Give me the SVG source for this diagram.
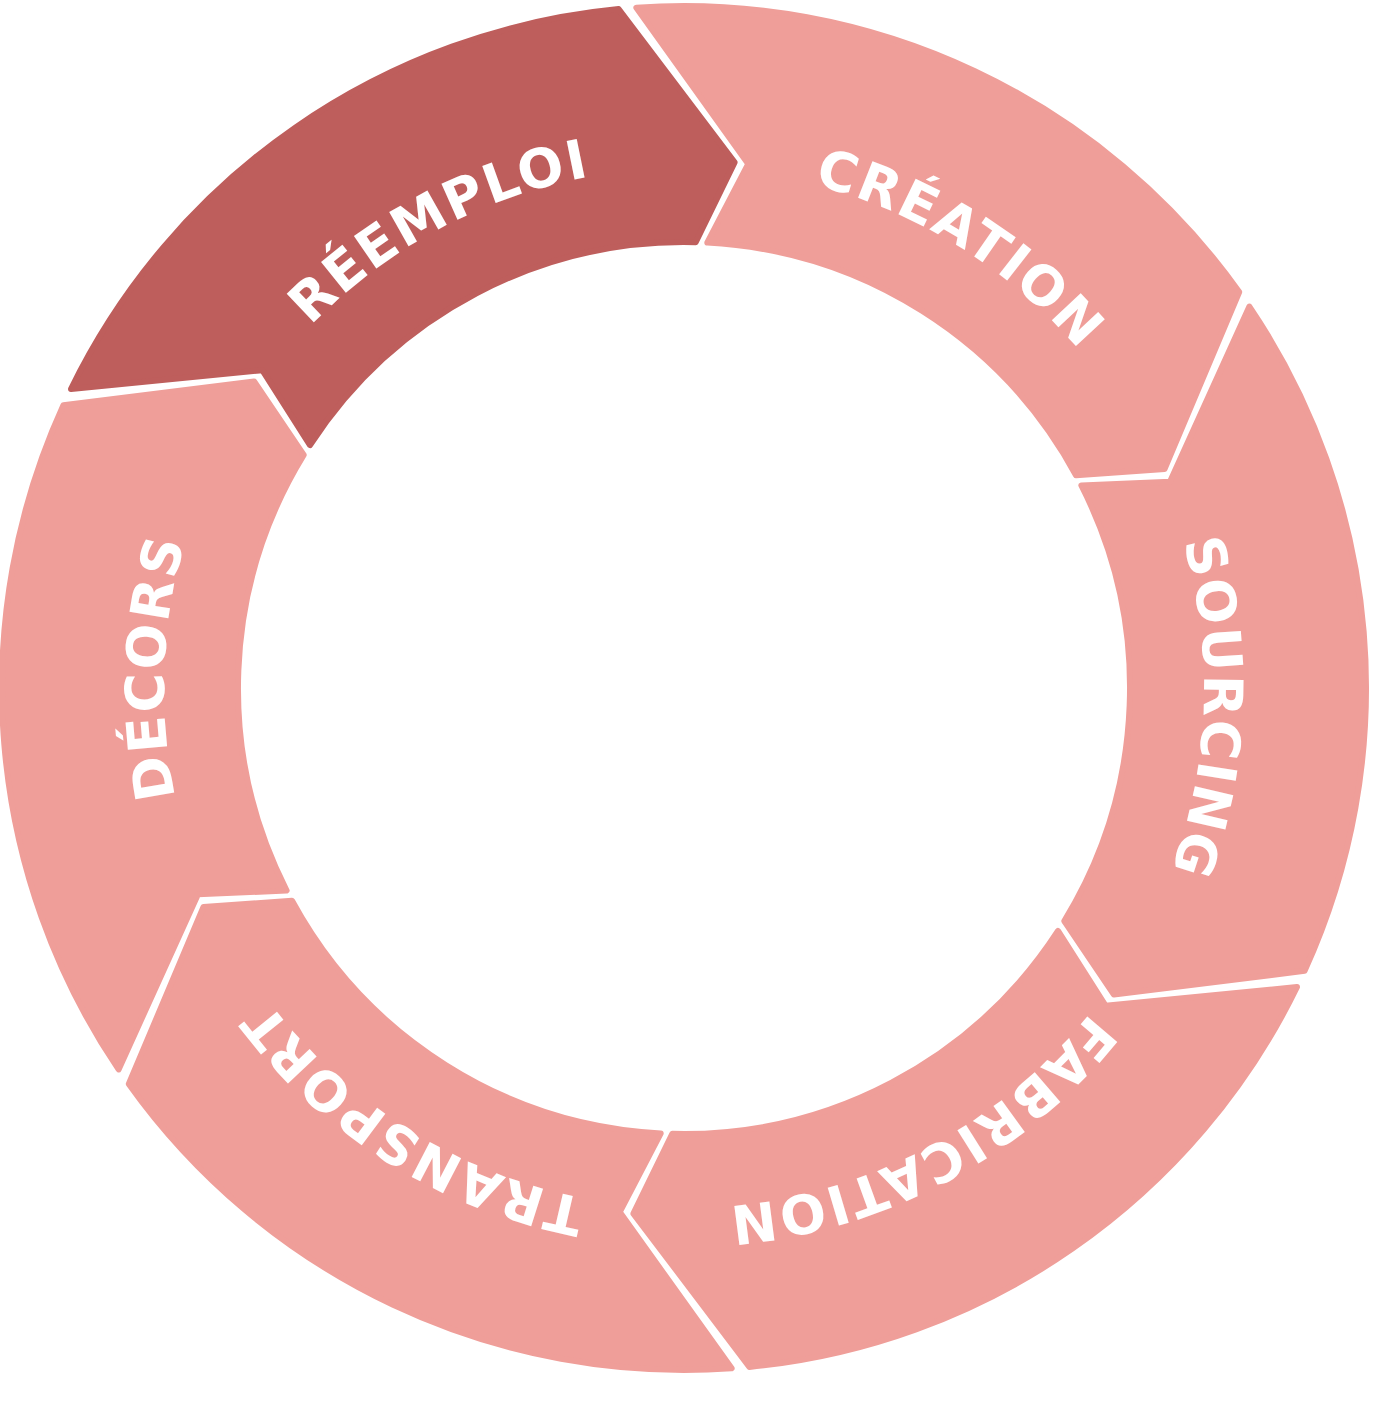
<svg xmlns="http://www.w3.org/2000/svg" xmlns:xlink="http://www.w3.org/1999/xlink" width="1377" height="1408" viewBox="0 0 1377 1408">
<style>
.seg{fill:#EF9E99;stroke:#EF9E99;stroke-width:6;stroke-linejoin:round}
.dark{fill:#BE5E5C;stroke:#BE5E5C}
.lbl{font-family:"DejaVu Sans",sans-serif;font-weight:bold;font-size:54px;fill:#fff;letter-spacing:2px;text-anchor:middle}
</style>
<defs>
<path id="tp" d="M684,168 A520,520 0 1 1 684,1208 A520,520 0 1 1 684,168"/>
</defs>
<rect width="1377" height="1408" fill="#fff"/>
<g id="reemploi"><path class="seg dark" d="M71,389 A682,682 0 0 1 618.6,9.1 L734.6,162.4 L695.7,242.2 A446,446 0 0 0 310,445.1 L262.3,370.2 Z"/><text class="lbl"><textPath href="#tp" xlink:href="#tp" startOffset="92.2%">RÉEMPLOI</textPath></text></g>
<g id="creation"><path class="seg" d="M636.4,7.7 A682,682 0 0 1 1239.2,292 L1164.5,469 L1076,475.2 A446,446 0 0 0 707.3,242.6 L748.3,163.9 Z"/><text class="lbl"><textPath href="#tp" xlink:href="#tp" startOffset="8.9%">CRÉATION</textPath></text></g>
<g id="sourcing"><path class="seg" d="M1249.4,306.6 A682,682 0 0 1 1304.6,970.8 L1113.9,994.6 L1064.3,921 A446,446 0 0 0 1081.4,485.5 L1170,481.7 Z"/><text class="lbl"><textPath href="#tp" xlink:href="#tp" startOffset="25.6%">SOURCING</textPath></text></g>
<g id="fabrication"><path class="seg" d="M1297,987 A682,682 0 0 1 749.4,1366.9 L633.4,1213.6 L672.3,1133.8 A446,446 0 0 0 1058,930.9 L1105.7,1005.8 Z"/><text class="lbl"><textPath href="#tp" xlink:href="#tp" startOffset="42.2%">FABRICATION</textPath></text></g>
<g id="transport"><path class="seg" d="M731.6,1368.3 A682,682 0 0 1 128.8,1084 L203.5,907 L292,900.8 A446,446 0 0 0 660.7,1133.4 L619.7,1212.1 Z"/><text class="lbl"><textPath href="#tp" xlink:href="#tp" startOffset="58.9%">TRANSPORT</textPath></text></g>
<g id="decors"><path class="seg" d="M118.6,1069.4 A682,682 0 0 1 63.4,405.2 L254.1,381.4 L303.7,455 A446,446 0 0 0 286.6,890.5 L198,894.3 Z"/><text class="lbl"><textPath href="#tp" xlink:href="#tp" startOffset="75.6%">DÉCORS</textPath></text></g>
<g id="connectors"/>
</svg>
